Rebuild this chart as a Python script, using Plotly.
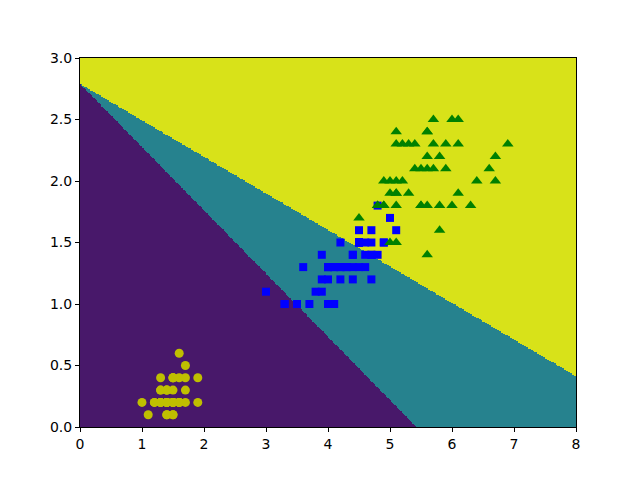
import numpy as np
import plotly.graph_objects as go

# iris petal length / width per class
setosa_len = [1.4, 1.4, 1.3, 1.5, 1.4, 1.7, 1.4, 1.5, 1.4, 1.5, 1.5, 1.6, 1.4, 1.1, 1.2, 1.5, 1.3,
              1.4, 1.7, 1.5, 1.7, 1.5, 1.0, 1.7, 1.9, 1.6, 1.6, 1.5, 1.4, 1.6, 1.6, 1.5, 1.5, 1.4,
              1.5, 1.2, 1.3, 1.4, 1.3, 1.5, 1.3, 1.3, 1.3, 1.6, 1.9, 1.4, 1.6, 1.4, 1.5, 1.4]
setosa_wid = [0.2, 0.2, 0.2, 0.2, 0.2, 0.4, 0.3, 0.2, 0.2, 0.1, 0.2, 0.2, 0.1, 0.1, 0.2, 0.4, 0.4,
              0.3, 0.3, 0.3, 0.2, 0.4, 0.2, 0.5, 0.2, 0.2, 0.4, 0.2, 0.2, 0.2, 0.2, 0.4, 0.1, 0.2,
              0.2, 0.2, 0.2, 0.1, 0.2, 0.2, 0.3, 0.3, 0.2, 0.6, 0.4, 0.3, 0.2, 0.2, 0.2, 0.2]
versicolor_len = [4.7, 4.5, 4.9, 4.0, 4.6, 4.5, 4.7, 3.3, 4.6, 3.9, 3.5, 4.2, 4.0, 4.7, 3.6, 4.4, 4.5,
                  4.1, 4.5, 3.9, 4.8, 4.0, 4.9, 4.7, 4.3, 4.4, 4.8, 5.0, 4.5, 3.5, 3.8, 3.7, 3.9, 5.1,
                  4.5, 4.5, 4.7, 4.4, 4.1, 4.0, 4.4, 4.6, 4.0, 3.3, 4.2, 4.2, 4.2, 4.3, 3.0, 4.1]
versicolor_wid = [1.4, 1.5, 1.5, 1.3, 1.5, 1.3, 1.6, 1.0, 1.3, 1.4, 1.0, 1.5, 1.0, 1.4, 1.3, 1.4, 1.5,
                  1.0, 1.5, 1.1, 1.8, 1.3, 1.5, 1.2, 1.3, 1.4, 1.4, 1.7, 1.5, 1.0, 1.1, 1.0, 1.2, 1.6,
                  1.5, 1.6, 1.5, 1.3, 1.3, 1.3, 1.2, 1.4, 1.2, 1.0, 1.3, 1.2, 1.3, 1.3, 1.1, 1.3]
virginica_len = [6.0, 5.1, 5.9, 5.6, 5.8, 6.6, 4.5, 6.3, 5.8, 6.1, 5.1, 5.3, 5.5, 5.0, 5.1, 5.3, 5.5,
                 6.7, 6.9, 5.0, 5.7, 4.9, 6.7, 4.9, 5.7, 6.0, 4.8, 4.9, 5.6, 5.8, 6.1, 6.4, 5.6, 5.1,
                 5.6, 6.1, 5.6, 5.5, 4.8, 5.4, 5.6, 5.1, 5.1, 5.9, 5.7, 5.2, 5.0, 5.2, 5.4, 5.1]
virginica_wid = [2.5, 1.9, 2.1, 1.8, 2.2, 2.1, 1.7, 1.8, 1.8, 2.5, 2.0, 1.9, 2.1, 2.0, 2.4, 2.3, 1.8,
                 2.2, 2.3, 1.5, 2.3, 2.0, 2.0, 1.8, 2.1, 1.8, 1.8, 1.8, 2.1, 1.6, 1.9, 2.0, 2.2, 1.5,
                 1.4, 2.3, 2.4, 1.8, 1.8, 2.1, 2.4, 2.3, 1.9, 2.3, 2.5, 2.3, 1.9, 2.0, 2.3, 1.8]

# decision boundaries: width = intercept - slope * length
boundary_intercepts = [2.79, 2.79]
boundary_slopes = [0.515, 0.2975]
region_colors = ["#48186a", "#26828e", "#d8e219"]

# mesh of predictions, like a contourf over a grid
xx = np.arange(0, 8.0001, 0.01)
yy = np.arange(0, 3.0001, 0.01)
X, Y = np.meshgrid(xx, yy)
Z = np.full(X.shape, 2)
Z[Y < boundary_intercepts[1] - boundary_slopes[1] * X] = 1
Z[Y < boundary_intercepts[0] - boundary_slopes[0] * X] = 0

cs = [[0, region_colors[0]], [1 / 3, region_colors[0]],
      [1 / 3, region_colors[1]], [2 / 3, region_colors[1]],
      [2 / 3, region_colors[2]], [1, region_colors[2]]]

fig = go.Figure()
fig.add_trace(go.Heatmap(x=xx, y=yy, z=Z, colorscale=cs, zmin=0, zmax=2,
                         showscale=False, zsmooth=False, hoverinfo="skip"))

fig.add_trace(go.Scatter(x=setosa_len, y=setosa_wid, mode="markers",
                         marker=dict(symbol="circle", size=9, color="#bfbf00")))
fig.add_trace(go.Scatter(x=versicolor_len, y=versicolor_wid, mode="markers",
                         marker=dict(symbol="square", size=8, color="#0000ff")))
fig.add_trace(go.Scatter(x=virginica_len, y=virginica_wid, mode="markers",
                         marker=dict(symbol="triangle-up", size=10, color="#008000")))

axis_style = dict(showline=True, linecolor="black", linewidth=1, mirror=True,
                  showgrid=False, zeroline=False, ticks="outside", ticklen=4,
                  tickcolor="black", tickfont=dict(family="DejaVu Sans", size=14, color="black"))

fig.update_xaxes(range=[0, 8], tickvals=list(range(0, 9)), **axis_style)
fig.update_yaxes(range=[0, 3], tickvals=[0, 0.5, 1, 1.5, 2, 2.5, 3], tickformat=".1f", **axis_style)

# page body adds 8px, so margins are shifted to keep the plot box at 80..576 x 58..427
fig.update_layout(
    width=640, height=480,
    margin=dict(l=72, r=72, t=50, b=61),
    paper_bgcolor="white", plot_bgcolor="white",
    showlegend=False,
)

fig.write_html("out.html", config={"displayModeBar": False})
